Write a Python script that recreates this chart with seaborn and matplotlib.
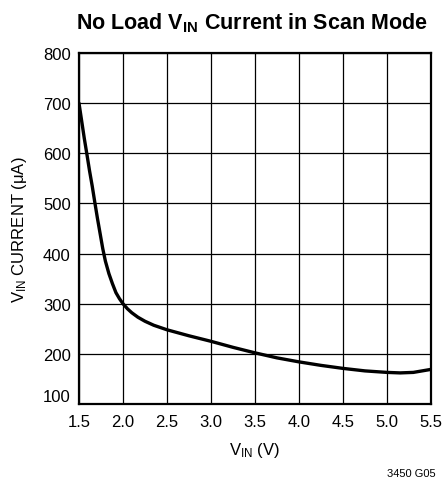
import matplotlib
matplotlib.use("Agg")
import matplotlib.pyplot as plt
import seaborn as sns
import pandas as pd

# data
vin = [1.50, 1.53, 1.56, 1.59, 1.62, 1.65, 1.68, 1.71, 1.74, 1.77, 1.80, 1.84,
       1.88, 1.92, 1.96, 2.00, 2.05, 2.10, 2.17, 2.25, 2.35, 2.50, 2.75, 3.00,
       3.25, 3.50, 3.75, 4.00, 4.25, 4.50, 4.75, 5.00, 5.15, 5.30, 5.50]
current = [700, 665, 630, 598, 565, 535, 502, 470, 440, 410, 385, 360,
           340, 322, 310, 300, 290, 282, 273, 265, 257, 248, 236, 225,
           213, 202, 192, 184, 177, 171, 166, 163, 162, 163, 169]

df = pd.DataFrame({"vin": vin, "current": current})

sns.set_theme(style="white", rc={"text.color": "black", "axes.labelcolor": "black",
                                 "xtick.color": "black", "ytick.color": "black"})
plt.rcParams['font.family'] = ['Liberation Sans Narrow', 'Liberation Sans', 'DejaVu Sans']
plt.rcParams['mathtext.default'] = 'regular'

fig = plt.figure(figsize=(4.42, 4.89), dpi=100)
ax = fig.add_axes([0.1787, 0.1718, 0.7963, 0.7178])

sns.lineplot(data=df, x="vin", y="current", ax=ax, color="black", linewidth=2.4)

ax.set_xlim(1.5, 5.5)
ax.set_ylim(100, 800)
xt = [1.5, 2.0, 2.5, 3.0, 3.5, 4.0, 4.5, 5.0, 5.5]
yt = [100, 200, 300, 400, 500, 600, 700, 800]
ax.set_xticks(xt)
ax.set_yticks(yt)
ax.set_xticklabels([f"{v:.1f}" for v in xt], fontsize=12)
ax.set_yticklabels([str(v) for v in yt], fontsize=12)
ax.tick_params(axis="x", length=0, pad=7)
ax.tick_params(axis="y", length=0, pad=6)
ax.get_yticklabels()[0].set_va("bottom")
ax.grid(True, color="black", linewidth=0.9)
for s in ax.spines.values():
    s.set_color("black")
    s.set_linewidth(1.6)

ax.set_xlabel(r"V$_{IN}$ (V)", fontsize=12, labelpad=8)
ax.set_ylabel(r"V$_{IN}$ CURRENT ($\mu$A)", fontsize=12, labelpad=10)
fig.text(0.57, 0.94, r"No Load V$_{IN}$ Current in Scan Mode", ha="center", va="baseline",
         fontsize=15.5, fontweight="bold")
fig.text(0.93, 0.025, "3450 G05", ha="center", va="baseline", fontsize=8)

fig.savefig("out.png", dpi=100)
